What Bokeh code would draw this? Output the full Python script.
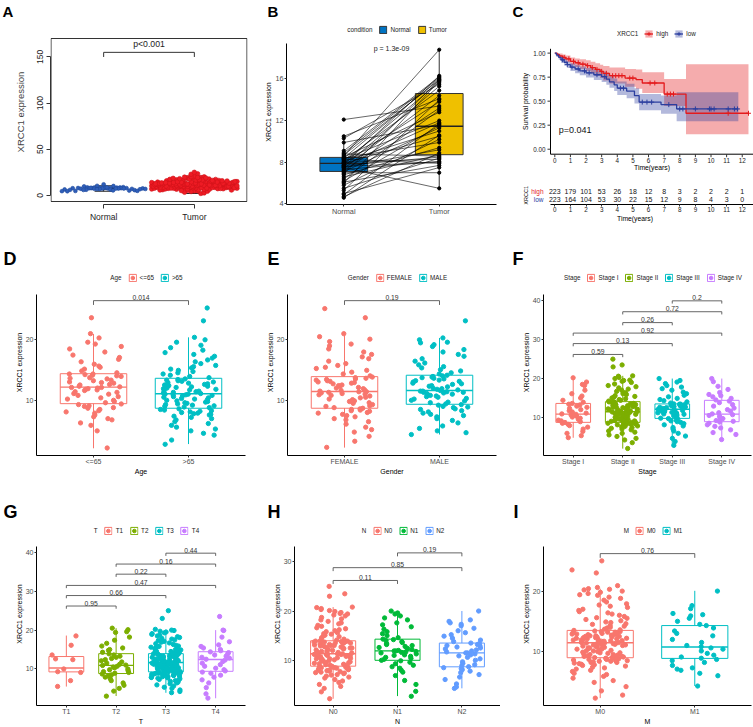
import numpy as np
from bokeh.plotting import figure
from bokeh.models import Range1d, FixedTicker, Legend, LegendItem, Title
from bokeh.layouts import row, column
from bokeh.embed import file_html
from bokeh.resources import INLINE
from bokeh.core.properties import value

FONT = "Liberation Sans"

# ---------------- DATA ----------------
B_normal = [12.1, 10.5, 10.3, 9.9, 9.1, 8.8, 8.7, 8.6, 8.5, 8.4, 8.4, 8.3, 8.2, 8.1, 8.0, 8.0, 7.9, 7.9,
            7.8, 7.7, 7.7, 7.6, 7.5, 7.5, 7.4, 7.3, 7.2, 7.1, 7.0, 6.9, 6.8, 6.6, 6.4, 6.2, 6.1, 6.0,
            5.8, 5.5, 5.3, 5.0, 4.9, 4.7, 4.6, 8.9, 8.3, 7.6]
B_tumor = [13.4, 14.1, 15.5, 11.6, 16.2, 8.6, 15.9, 18.8, 12.8, 9.9, 16.0, 7.9, 14.9, 11.0, 15.7, 8.3, 13.8, 10.5,
           16.3, 8.5, 11.8, 15.3, 5.5, 9.2, 14.4, 8.1, 13.2, 11.3, 7.0, 15.9, 9.4, 8.7, 13.0, 11.5, 7.7, 15.8,
           10.2, 8.4, 14.0, 7.5, 11.7, 8.9, 10.6, 16.1, 12.0, 8.0]
B_groups = ["Normal", "Tumor"]
B_q1 = [7.12, 8.73]
B_med = [7.9, 11.46]
B_q3 = [8.47, 14.6]
B_lo = [5.0, 5.5]
B_hi = [10.5, 18.8]
B_p = "p = 1.3e-09"

KM_high_t = [0, 0.15, 0.3, 0.5, 0.7, 1.0, 1.3, 1.6, 2.0, 2.3, 2.6, 2.9, 3.1, 3.5, 4.5, 5.2, 5.6, 7.0, 8.4]
KM_high_s = [1, 0.985, 0.97, 0.955, 0.94, 0.915, 0.9, 0.885, 0.87, 0.85, 0.83, 0.81, 0.79, 0.765, 0.74, 0.725, 0.689, 0.574, 0.374]
KM_high_lo = [1, 0.965, 0.945, 0.925, 0.905, 0.875, 0.855, 0.835, 0.815, 0.79, 0.765, 0.74, 0.715, 0.685, 0.65, 0.63, 0.585, 0.45, 0.155]
KM_high_up = [1, 1.0, 0.995, 0.985, 0.975, 0.955, 0.945, 0.935, 0.925, 0.91, 0.895, 0.88, 0.865, 0.85, 0.835, 0.83, 0.80, 0.73, 0.885]
KM_high_end = 12.4
KM_high_cens = [0.6, 0.9, 1.2, 1.5, 1.8, 2.1, 2.4, 2.7, 3.0, 3.3, 3.7, 3.9, 4.1, 4.3, 4.8, 5.0, 6.1, 6.4, 7.2, 7.4, 7.6, 11.1, 12.4]
KM_low_t = [0, 0.1, 0.25, 0.4, 0.6, 0.8, 1.0, 1.3, 1.6, 2.0, 2.5, 3.0, 3.3, 3.5, 3.8, 4.0, 4.6, 5.1, 5.4, 6.8, 7.8]
KM_low_s = [1, 0.98, 0.955, 0.93, 0.905, 0.88, 0.855, 0.835, 0.815, 0.795, 0.775, 0.755, 0.73, 0.70, 0.67, 0.635, 0.605, 0.557, 0.49, 0.464, 0.419]
KM_low_lo = [1, 0.96, 0.93, 0.9, 0.87, 0.845, 0.815, 0.79, 0.77, 0.745, 0.72, 0.7, 0.67, 0.64, 0.605, 0.565, 0.53, 0.475, 0.405, 0.37, 0.29]
KM_low_up = [1, 1.0, 0.98, 0.96, 0.94, 0.915, 0.895, 0.88, 0.86, 0.845, 0.83, 0.81, 0.79, 0.76, 0.735, 0.705, 0.68, 0.635, 0.575, 0.56, 0.592]
KM_low_end = 11.75
KM_low_cens = [0.5, 0.8, 1.1, 1.5, 1.9, 2.2, 2.7, 3.2, 4.2, 4.4, 5.6, 5.9, 6.2, 7.3, 8.0, 8.2, 9.0, 9.9, 10.0, 10.2, 11.1, 11.5, 11.7]
KM_yticks = [0, 0.25, 0.5, 0.75, 1.0]
KM_p = "p=0.041"
RISK_times = list(range(13))
RISK_high = [223, 179, 101, 53, 26, 18, 12, 8, 3, 2, 2, 2, 1]
RISK_low = [223, 164, 104, 53, 30, 22, 15, 12, 9, 8, 4, 3, 0]

D_groups = ["<=65", ">65"]
D_young = [2.2, 5.0, 5.9, 6.3, 6.8, 7.0, 7.3, 7.6, 7.9, 8.1, 8.3, 8.5, 8.7, 8.8, 9.0, 9.1, 9.3, 9.4,
           9.6, 9.8, 10.0, 10.2, 10.4, 10.6, 10.8, 11.0, 11.1, 11.3, 11.4, 11.6, 11.7, 11.8, 11.9, 12.0, 12.1, 12.1,
           12.2, 12.3, 12.5, 12.6, 12.8, 12.9, 13.0, 13.2, 13.3, 13.5, 13.6, 13.7, 13.9, 14.0, 14.1, 14.2, 14.3, 14.3,
           14.5, 14.8, 15.1, 15.4, 15.6, 15.9, 16.3, 16.7, 17.0, 17.4, 17.9, 18.4, 18.8, 19.2, 19.5, 20.2, 20.9, 23.5]
D_old = [2.8, 3.5, 4.3, 4.6, 5.0, 5.3, 5.6, 5.9, 6.2, 6.5, 6.8, 7.0, 7.2, 7.4, 7.6, 7.7, 7.8, 7.9, 8.0, 8.1, 8.2, 8.3, 8.4, 8.5, 8.6,
         8.8, 8.9, 9.0, 9.1, 9.2, 9.3, 9.4, 9.5, 9.6, 9.7, 9.8, 9.9, 10.0, 10.1, 10.2, 10.3, 10.4, 10.5, 10.6, 10.7, 10.8, 10.9, 10.9, 11.0, 11.0,
         11.1, 11.2, 11.3, 11.4, 11.5, 11.6, 11.7, 11.8, 11.9, 12.0, 12.1, 12.2, 12.3, 12.4, 12.5, 12.6, 12.7, 12.8, 12.9, 13.0, 13.1, 13.2, 13.3, 13.4, 13.5,
         13.7, 13.9, 14.1, 14.3, 14.5, 14.7, 14.9, 15.1, 15.3, 15.5, 15.7, 16.0, 16.3, 16.6, 16.9, 17.2, 17.5, 17.8, 18.2, 18.6, 19.0, 19.5, 19.9, 20.3,
         23.0, 25.1]
D_q1 = [9.45, 8.7]
D_med = [12.15, 11.07]
D_q3 = [14.35, 13.6]
D_lo = [2.15, 2.84]
D_hi = [20.85, 20.3]
D_brackets = [(1, 2, 26.3, "0.014")]

E_groups = ["FEMALE", "MALE"]
E_female = [2.3, 3.3, 4.1, 4.8, 5.2, 5.6, 6.1, 6.5, 6.8, 7.0, 7.3, 7.5, 7.7, 7.9, 8.0, 8.2, 8.3, 8.4, 8.5, 8.6, 8.7,
            8.8, 9.0, 9.1, 9.3, 9.5, 9.6, 9.8, 9.9, 10.1, 10.2, 10.4, 10.5, 10.7, 10.8, 10.9, 11.0, 11.1, 11.2, 11.3, 11.4, 11.4,
            11.5, 11.6, 11.7, 11.9, 12.0, 12.1, 12.3, 12.4, 12.5, 12.7, 12.8, 12.9, 13.0, 13.1, 13.2, 13.3, 13.4, 13.5, 13.6, 13.7, 13.8,
            14.0, 14.3, 14.6, 14.9, 15.2, 15.4, 15.7, 16.0, 16.4, 16.8, 17.1, 17.5, 17.9, 18.4, 18.9, 19.2, 19.6, 20.0, 20.4, 20.9,
            23.5, 25.0]
E_male = [4.4, 4.7, 5.0, 5.4, 5.8, 6.3, 6.7, 7.0, 7.3, 7.5, 7.7, 7.9, 8.1, 8.3, 8.5, 8.6, 8.8, 8.9, 9.0, 9.2, 9.3,
          9.4, 9.6, 9.7, 9.9, 10.0, 10.2, 10.3, 10.5, 10.6, 10.7, 10.8, 10.9, 11.0, 11.1, 11.2, 11.3, 11.3, 11.4, 11.5, 11.5, 11.6,
          11.7, 11.8, 11.9, 12.0, 12.2, 12.3, 12.4, 12.6, 12.7, 12.8, 13.0, 13.1, 13.2, 13.3, 13.5, 13.6, 13.7, 13.8, 13.9, 14.0, 14.1,
          14.3, 14.5, 14.8, 15.0, 15.3, 15.5, 15.8, 16.1, 16.4, 16.8, 17.2, 17.5, 17.9, 18.3, 18.8, 19.1, 19.4, 19.5, 19.9, 20.2,
          23.0]
E_q1 = [8.7, 9.35]
E_med = [11.45, 11.6]
E_q3 = [13.87, 14.1]
E_lo = [2.26, 4.4]
E_hi = [20.85, 20.2]
E_brackets = [(1, 2, 26.3, "0.19")]

F_groups = ["Stage I", "Stage II", "Stage III", "Stage IV"]
F_s1 = [4.8, 5.3, 5.9, 6.4, 7.0, 7.5, 7.9, 8.2, 8.5, 8.7, 8.9, 9.1, 9.3, 9.5, 9.8, 10.1, 10.3, 10.6, 10.8, 10.9,
        11.1, 11.4, 11.7, 12.0, 12.3, 12.6, 12.9, 13.2, 13.4, 13.6, 13.9, 14.4, 15.0, 15.5, 16.1, 17.0, 18.2, 18.5, 19.1, 20.2]
F_s2 = [2.0, 3.5, 4.2, 4.6, 5.1, 5.5, 5.9, 6.2, 6.5, 6.8, 7.0, 7.2, 7.4, 7.6, 7.7, 7.8, 7.9, 8.0, 8.1, 8.2, 8.3, 8.4, 8.5, 8.5, 8.6, 8.7, 8.7,
        8.8, 8.9, 9.0, 9.1, 9.2, 9.4, 9.5, 9.6, 9.7, 9.9, 10.0, 10.1, 10.2, 10.4, 10.5, 10.6, 10.7, 10.8, 10.9, 11.0, 11.0, 11.1, 11.2, 11.3, 11.3, 11.4, 11.4,
        11.5, 11.6, 11.7, 11.8, 11.9, 12.0, 12.1, 12.2, 12.3, 12.4, 12.5, 12.6, 12.7, 12.8, 12.9, 13.0, 13.1, 13.2, 13.3, 13.4, 13.5, 13.6, 13.7, 13.8, 13.9, 14.0, 14.0,
        14.2, 14.4, 14.6, 14.8, 15.0, 15.2, 15.4, 15.6, 15.9, 16.1, 16.4, 16.7, 17.0, 17.3, 17.6, 17.9, 18.2, 18.6, 19.0, 19.3, 19.5, 19.6, 20.0, 20.3, 20.6, 20.7,
        23.0, 23.5, 25.0]
F_s3 = [2.8, 3.8, 4.6, 5.2, 5.9, 6.5, 7.0, 7.4, 7.8, 8.1, 8.4, 8.7, 8.9, 9.1, 9.3, 9.5, 9.7,
        9.8, 10.0, 10.2, 10.4, 10.6, 10.8, 10.9, 11.1, 11.2, 11.3, 11.5, 11.6, 11.7, 11.8, 11.9, 12.0, 12.0, 12.1,
        12.2, 12.3, 12.3, 12.4, 12.5, 12.6, 12.7, 12.8, 12.8, 12.9, 13.0, 13.1, 13.1, 13.2, 13.3, 13.4, 13.4, 13.5,
        13.7, 14.0, 14.3, 14.6, 14.9, 15.3, 15.7, 16.1, 16.5, 17.0, 17.4, 17.8, 18.2, 18.7, 19.1, 19.5, 20.0]
F_s4 = [4.3, 5.6, 6.1, 6.8, 7.3, 7.7, 8.1, 8.5, 8.8, 9.0, 9.2, 9.5, 9.7, 10.0, 10.3, 10.5, 10.7, 10.9, 11.2, 11.6,
        12.0, 12.4, 12.9, 13.3, 13.8, 14.2, 14.5, 14.9, 15.3, 15.6, 15.9, 16.4, 17.2, 18.0, 19.2, 20.0]
F_q1 = [8.73, 8.73, 9.75, 8.9]
F_med = [10.85, 11.44, 12.1, 10.85]
F_q3 = [13.6, 14.06, 13.47, 14.4]
F_lo = [4.76, 1.97, 2.8, 4.25]
F_hi = [20.25, 20.7, 20.0, 20.0]
F_brackets = [(1, 2, 26.2, "0.59"), (1, 3, 29.0, "0.13"), (1, 4, 31.7, "0.92"),
              (2, 3, 34.4, "0.26"), (2, 4, 37.2, "0.72"), (3, 4, 40.0, "0.2")]

G_groups = ["T1", "T2", "T3", "T4"]
G_t1 = [5.5, 7.0, 9.1, 9.3, 10.0, 12.4, 12.6, 13.6, 16.1, 18.5]
G_t2 = [3.0, 4.3, 5.0, 5.8, 6.4, 7.0, 7.5, 7.9, 8.2, 8.5, 8.7, 8.9, 9.1, 9.3, 9.6, 9.8, 10.0, 10.3, 10.5, 10.7, 10.9, 11.0,
        11.2, 11.5, 11.8, 12.1, 12.4, 12.7, 13.0, 13.3, 13.6, 13.9, 14.3, 14.8, 15.0, 15.4, 15.9, 16.6, 17.4, 18.2, 19.4, 19.6, 20.1, 20.5]
G_t3 = [3.9, 4.2, 4.6, 5.0, 5.3, 5.6, 5.9, 6.2, 6.4, 6.6, 6.8, 7.0, 7.2, 7.3, 7.5, 7.6, 7.7, 7.8, 7.9, 8.0, 8.1, 8.2, 8.3, 8.4, 8.5, 8.6, 8.6, 8.7, 8.8, 8.8, 8.9, 9.0, 9.0, 9.1, 9.1, 9.2, 9.2,
        9.3, 9.4, 9.4, 9.5, 9.6, 9.7, 9.7, 9.8, 9.9, 10.0, 10.0, 10.1, 10.2, 10.3, 10.3, 10.4, 10.5, 10.6, 10.6, 10.7, 10.8, 10.8, 10.9, 11.0, 11.0, 11.1, 11.2, 11.2, 11.3, 11.3, 11.4, 11.4, 11.5, 11.5, 11.6, 11.6, 11.7,
        11.7, 11.8, 11.8, 11.9, 11.9, 12.0, 12.0, 12.1, 12.2, 12.2, 12.3, 12.3, 12.4, 12.5, 12.5, 12.6, 12.7, 12.7, 12.8, 12.9, 12.9, 13.0, 13.1, 13.1, 13.2, 13.3, 13.3, 13.4, 13.5, 13.5, 13.6, 13.7, 13.7, 13.8, 13.8, 13.9, 13.9,
        14.0, 14.1, 14.2, 14.4, 14.5, 14.6, 14.8, 14.9, 15.0, 15.2, 15.3, 15.5, 15.6, 15.8, 15.9, 16.1, 16.3, 16.5, 16.7, 16.9, 17.1, 17.3, 17.5, 17.7, 17.9, 18.1, 18.3, 18.5, 18.7, 18.9, 19.1, 19.3, 19.5, 19.7, 19.9, 20.0, 20.2,
        23.0, 25.0]
G_t4 = [2.5, 3.6, 5.2, 6.4, 7.2, 7.9, 8.4, 8.9, 9.2, 9.5, 9.8, 10.2, 10.7, 11.1, 11.5, 11.9, 12.3, 12.5, 12.8, 13.0,
        13.3, 13.6, 13.9, 14.2, 14.4, 14.7, 15.0, 15.4, 15.8, 16.2, 17.0, 18.2, 19.9, 20.0, 23.5]
G_q1 = [9.25, 8.83, 9.25, 9.4]
G_med = [10.25, 10.92, 11.68, 12.43]
G_q3 = [13.2, 13.94, 13.94, 14.44]
G_lo = [5.47, 3.04, 3.87, 2.46]
G_hi = [18.6, 20.5, 20.17, 20.0]
G_brackets = [(1, 2, 26.2, "0.95"), (1, 3, 28.9, "0.66"), (1, 4, 31.5, "0.47"),
              (2, 3, 34.4, "0.22"), (2, 4, 37.0, "0.16"), (3, 4, 39.8, "0.44")]

H_groups = ["N0", "N1", "N2"]
H_n0 = [2.2, 3.6, 4.3, 4.7, 5.1, 5.5, 5.8, 6.1, 6.4, 6.6, 6.8, 7.0, 7.1, 7.3, 7.4, 7.5, 7.6, 7.7, 7.8, 7.9, 8.0, 8.0, 8.1, 8.2, 8.3, 8.3, 8.4, 8.5, 8.5, 8.6, 8.6, 8.7, 8.7, 8.8,
        8.9, 9.0, 9.1, 9.2, 9.3, 9.4, 9.5, 9.6, 9.7, 9.8, 9.9, 10.0, 10.1, 10.2, 10.3, 10.3, 10.4, 10.5, 10.6, 10.7, 10.7, 10.8, 10.9, 10.9, 11.0, 11.0, 11.1, 11.1, 11.2, 11.2, 11.3, 11.3, 11.3, 11.3,
        11.4, 11.5, 11.6, 11.7, 11.8, 11.9, 12.0, 12.1, 12.2, 12.3, 12.4, 12.5, 12.5, 12.6, 12.7, 12.8, 12.9, 13.0, 13.0, 13.1, 13.2, 13.3, 13.3, 13.4, 13.5, 13.5, 13.6, 13.7, 13.7, 13.8, 13.8, 13.9, 13.9, 14.0,
        14.1, 14.3, 14.5, 14.6, 14.8, 15.0, 15.1, 15.3, 15.4, 15.6, 15.8, 16.0, 16.2, 16.4, 16.6, 16.9, 17.1, 17.4, 17.6, 17.9, 18.2, 18.4, 18.7, 19.0, 19.2, 19.4, 19.5, 19.7, 19.9, 20.1, 20.3, 20.5, 20.7, 20.8,
        23.0, 23.5, 25.0]
H_n1 = [2.7, 3.7, 5.1, 5.9, 6.9, 7.6, 8.0, 8.4, 8.7, 9.0, 9.3, 9.6, 9.9, 10.0, 10.2, 10.4, 10.6, 10.8, 11.0, 11.1, 11.3, 11.5, 11.6, 11.7, 11.8, 11.9, 11.9,
        12.0, 12.2, 12.4, 12.6, 12.8, 13.0, 13.2, 13.4, 13.6, 13.8, 14.0, 14.2, 14.3, 14.6, 15.0, 15.4, 15.8, 16.3, 16.8, 17.2, 17.6, 18.2, 18.6, 19.0, 19.4, 19.6, 20.0]
H_n2 = [4.3, 4.6, 5.2, 6.1, 6.6, 7.1, 7.5, 7.8, 8.1, 8.3, 8.5, 8.7, 8.9, 9.1, 9.4, 9.7, 10.0, 10.3, 10.6, 10.9, 11.1, 11.3, 11.5, 11.5,
        11.7, 11.9, 12.1, 12.3, 12.5, 12.7, 12.9, 13.0, 13.2, 13.4, 13.5, 13.8, 14.1, 14.5, 14.9, 15.2, 15.6, 16.0, 16.5, 17.0, 17.3, 17.6, 17.9, 18.2, 20.0]
H_q1 = [8.81, 10.0, 8.68]
H_med = [11.32, 11.91, 11.5]
H_q3 = [13.96, 14.29, 13.5]
H_lo = [2.2, 2.74, 4.32]
H_hi = [20.8, 20.0, 20.0]
H_brackets = [(1, 2, 26.2, "0.11"), (1, 3, 28.8, "0.85"), (2, 3, 31.8, "0.19")]

I_groups = ["M0", "M1"]
I_m0 = [2.3, 2.8, 3.5, 4.2, 4.9, 5.2, 5.6, 5.9, 6.2, 6.4, 6.7, 6.9, 7.1, 7.3, 7.4, 7.6, 7.7, 7.8, 7.9, 8.0, 8.1, 8.2, 8.2, 8.3, 8.4, 8.4, 8.5, 8.5, 8.6, 8.6, 8.7, 8.7, 8.8, 8.8, 8.9, 8.9, 8.9, 9.0, 9.0,
        9.1, 9.2, 9.2, 9.3, 9.4, 9.5, 9.5, 9.6, 9.7, 9.8, 9.8, 9.9, 10.0, 10.1, 10.1, 10.2, 10.3, 10.4, 10.4, 10.5, 10.6, 10.6, 10.7, 10.8, 10.8, 10.9, 10.9, 11.0, 11.0, 11.1, 11.1, 11.2, 11.2, 11.3, 11.3, 11.4, 11.4, 11.4, 11.5,
        11.5, 11.6, 11.6, 11.7, 11.7, 11.8, 11.8, 11.9, 11.9, 12.0, 12.0, 12.1, 12.1, 12.2, 12.2, 12.3, 12.3, 12.4, 12.4, 12.5, 12.5, 12.6, 12.6, 12.7, 12.7, 12.8, 12.8, 12.9, 12.9, 13.0, 13.0, 13.1, 13.1, 13.2, 13.2, 13.3, 13.3, 13.4, 13.5,
        13.6, 13.7, 13.9, 14.0, 14.2, 14.3, 14.5, 14.6, 14.8, 14.9, 15.1, 15.3, 15.5, 15.6, 15.8, 16.0, 16.2, 16.4, 16.6, 16.8, 17.0, 17.3, 17.5, 17.7, 17.9, 18.2, 18.5, 18.8, 19.0, 19.3, 19.4, 19.6, 19.8, 20.0, 20.2, 20.3, 20.4, 20.6, 20.9,
        23.0, 23.5, 25.0]
I_m1 = [4.3, 6.0, 6.4, 6.9, 7.1, 7.3, 7.7, 8.2, 8.5, 8.7, 8.9, 9.1, 9.4, 9.7, 10.1, 10.4, 10.6, 10.8, 11.0, 11.5,
        12.0, 12.6, 13.0, 13.4, 13.9, 14.3, 14.5, 15.0, 15.5, 15.9, 16.1, 16.3, 17.1, 17.6, 20.0]
I_q1 = [8.98, 8.87]
I_med = [11.45, 10.75]
I_q3 = [13.5, 14.3]
I_lo = [2.3, 4.3]
I_hi = [20.4, 20.05]
I_brackets = [(1, 2, 26.2, "0.76")]

A_groups = ["Normal", "Tumor"]
A_normal = B_normal
A_tumor = D_young + D_old
A_q1 = [7.1, 9.0]
A_med = [7.9, 11.6]
A_q3 = [8.5, 14.0]
A_lo = [4.6, 2.2]
A_hi = [10.5, 20.9]
A_p = "p<0.001"

GG2 = ["#F8766D", "#00BFC4"]
GG3 = ["#F8766D", "#00BA38", "#619CFF"]
GG4 = ["#F8766D", "#7CAE00", "#00BFC4", "#C77CFF"]


# ---------------- helpers ----------------
def hash_jitter(n, w, seed):
    k = np.arange(n, dtype=float) + seed
    h = np.sin(k * 12.9898 + seed * 78.233) * 43758.5453
    return (h - np.floor(h) - 0.5) * 2.0 * w


def new_fig(w, h, xr, yr, left, right, top, bottom):
    return figure(width=w, height=h, x_range=Range1d(*xr), y_range=Range1d(*yr), title=None,
                  output_backend="svg", toolbar_location=None,
                  width_policy="fixed", height_policy="fixed",
                  min_border_left=left, min_border_right=right, min_border_top=top, min_border_bottom=bottom)


def style_gg(p, tick_size="7px", title_size="7px", tick_color="#4D4D4D"):
    p.xgrid.visible = False
    p.ygrid.visible = False
    p.outline_line_color = None
    p.background_fill_color = "white"
    p.border_fill_color = "white"
    for ax in [p.xaxis[0], p.yaxis[0]]:
        ax.axis_line_color = "black"
        ax.axis_line_width = 1
        ax.major_tick_line_color = "#333333"
        ax.major_tick_in = 0
        ax.major_tick_out = 2
        ax.minor_tick_line_color = None
        ax.major_label_text_font = FONT
        ax.major_label_text_font_size = tick_size
        ax.major_label_text_color = tick_color
        ax.major_label_standoff = 1
        ax.axis_label_text_font = FONT
        ax.axis_label_text_font_size = title_size
        ax.axis_label_text_font_style = "normal"
        ax.axis_label_text_color = "black"
        ax.axis_label_standoff = 0
    p.xaxis.major_label_standoff = 0


def add_letter(p, text, offset, size, standoff):
    p.add_layout(Title(text=text, align="left", offset=offset, standoff=standoff, text_font=FONT,
                       text_font_size=size, text_font_style="bold", text_color="black"), "above")


def add_legend(p, items, title, margin, location="top_center"):
    head = LegendItem(label=title, renderers=[])
    leg = Legend(items=[head] + list(items), orientation="horizontal", location=location,
                 glyph_width=9, glyph_height=9, label_height=9, label_width=0,
                 label_standoff=3, spacing=6, padding=0, margin=margin,
                 label_text_font=FONT, label_text_font_size="6.3px", label_text_color="#222222",
                 background_fill_alpha=0, border_line_color=None)
    p.add_layout(leg, "center")


def ext_range(lo, hi, data_top, data_bot, t0, fb):
    ppu = (data_bot - data_top) / (hi - lo)
    return (lo - (fb - data_bot) / ppu, hi + (data_top - t0) / ppu)


def box_panel(letter, cats, cols, groups, q1, med, q3, lo, hi, brackets, yr, yticks,
              leg_title, xtitle, w, h, left, right, t0, data_top, bottom, margin, loff, lstand, seed):
    n = len(cats)
    fb = h - bottom
    p = new_fig(w, h, (0.4, n + 0.6), ext_range(yr[0], yr[1], data_top, fb, t0, fb), left, right, t0, bottom)
    style_gg(p)
    p.yaxis.bounds = (yr[0], yr[1])
    items = []
    for i in range(n):
        x = i + 1
        c = cols[i]
        p.segment(x0=[x, x], y0=[q3[i], q1[i]], x1=[x, x], y1=[hi[i], lo[i]], line_color=c, line_width=1)
        box = p.vbar(x=[x], width=0.7, bottom=[q1[i]], top=[q3[i]], fill_alpha=0, line_color=c, line_width=1)
        p.segment(x0=[x - 0.35], y0=[med[i]], x1=[x + 0.35], y1=[med[i]], line_color=c, line_width=1.4)
        vals = np.array(groups[i], dtype=float)
        xs = x + hash_jitter(len(vals), 0.3, seed + i * 17)
        pts = p.scatter(x=xs, y=vals, marker="circle", size=4.3, fill_color=c, line_color=c)
        items.append(LegendItem(label=cats[i], renderers=[box, pts]))
    tip = 0.7
    bx0, by0, bx1, by1, tx, ty, tt = [], [], [], [], [], [], []
    for (i, j, yb, lab) in brackets:
        bx0 += [i, i, j]; by0 += [yb, yb, yb]
        bx1 += [j, i, j]; by1 += [yb, yb - tip, yb - tip]
        tx.append((i + j) / 2.0); ty.append(yb); tt.append(lab)
    p.segment(x0=bx0, y0=by0, x1=bx1, y1=by1, line_color="#555555", line_width=0.9)
    p.text(x=tx, y=ty, text=tt, text_font=value(FONT), text_font_size="6.8px", text_align="center",
           text_baseline="bottom", text_color="#333333", y_offset=-0.5)
    p.xaxis.ticker = FixedTicker(ticks=list(range(1, n + 1)))
    p.xaxis.major_label_overrides = {k + 1: cats[k] for k in range(n)}
    p.yaxis.ticker = FixedTicker(ticks=yticks)
    p.xaxis.axis_label = xtitle
    p.yaxis.axis_label = "XRCC1 expression"
    add_legend(p, items, leg_title, margin)
    add_letter(p, letter, loff, "18px", lstand)
    return p


def swarm_offsets(vals, bin_units, step, maxw):
    vals = np.asarray(vals, dtype=float)
    off = np.zeros(len(vals))
    bins = np.floor((vals - vals.min()) / bin_units).astype(int)
    for b in np.unique(bins):
        idx = np.where(bins == b)[0]
        m = len(idx)
        if m == 1:
            continue
        sp = min(step, 2 * maxw / (m - 1))
        pos = (np.arange(m) - (m - 1) / 2.0) * sp
        order = np.argsort(hash_jitter(m, 1.0, b + 3))
        off[idx] = pos[order]
    return off


# Row 1 shares one top and one bottom border (Bokeh aligns frames inside a row)
R1_H, R1_TOP, R1_BOT = 245, 19, 41
R1_FB = R1_H - R1_BOT  # frame bottom (px from figure top)

# ---------------- Panel A ----------------
A_box = (0.42, 2.58, -6.5, 170.0)
pa = new_fig(250, R1_H, (0.414, 2.586), ext_range(A_box[2], A_box[3], 38, 201, R1_TOP, R1_FB), 50, 3, R1_TOP, R1_BOT)
pa.xgrid.visible = False
pa.ygrid.visible = False
pa.outline_line_color = None
for ax in [pa.xaxis[0], pa.yaxis[0]]:
    ax.axis_line_color = "#333333"
    ax.major_tick_line_color = "#333333"
    ax.major_tick_in = 0
    ax.major_tick_out = 4
    ax.minor_tick_line_color = None
    ax.major_label_text_font = FONT
    ax.major_label_text_font_size = "8.5px"
    ax.major_label_text_color = "#222222"
    ax.axis_label_text_font = FONT
    ax.axis_label_text_font_size = "9.5px"
    ax.axis_label_text_font_style = "normal"
pa.xaxis.ticker = FixedTicker(ticks=[1, 2])
pa.xaxis.major_label_overrides = {1: A_groups[0], 2: A_groups[1]}
pa.xaxis.major_label_standoff = 3
pa.xaxis.bounds = (1, 2)
pa.yaxis.ticker = FixedTicker(ticks=[0, 50, 100, 150])
pa.yaxis.bounds = (0, 150)
pa.yaxis.major_label_orientation = "vertical"
pa.yaxis.major_label_standoff = 3
pa.yaxis.axis_label = "XRCC1 expression"
pa.yaxis.axis_label_standoff = 9
pa.quad(left=[A_box[0]], right=[A_box[1]], bottom=[A_box[2]], top=[A_box[3]], fill_alpha=0,
        line_color="#333333", line_width=1)
for i in range(2):
    x = i + 1
    pa.segment(x0=[x, x, x - 0.1, x - 0.1], y0=[A_q3[i], A_q1[i], A_hi[i], A_lo[i]],
               x1=[x, x, x + 0.1, x + 0.1], y1=[A_hi[i], A_lo[i], A_hi[i], A_lo[i]],
               line_color="#222222", line_width=1)
    pa.vbar(x=[x], width=0.4, bottom=[A_q1[i]], top=[A_q3[i]], fill_color="white", line_color="#222222", line_width=1)
    pa.segment(x0=[x - 0.2], y0=[A_med[i]], x1=[x + 0.2], y1=[A_med[i]], line_color="#111111", line_width=2)
nx = 1 + swarm_offsets(A_normal, 3.6, 0.036, 0.46)
pa.scatter(x=nx, y=A_normal, marker="circle", size=3.8, fill_color="#2F5EB8", line_color="#1E4A9E", line_width=0.6)
tx_ = 2 + swarm_offsets(A_tumor, 3.4, 0.036, 0.47)
pa.scatter(x=tx_, y=A_tumor, marker="circle", size=4.6, fill_color="#EE1B24", line_color="#D0121A", line_width=0.6)
pa.segment(x0=[1, 1, 2], y0=[155, 155, 155], x1=[2, 1, 2], y1=[155, 150, 150], line_color="#333333", line_width=1)
pa.text(x=[1.5], y=[159], text=[A_p], text_font=value(FONT), text_font_size="8.7px", text_align="center",
        text_baseline="bottom", text_color="#222222")
add_letter(pa, "A", -48, "15px", 0)

# ---------------- Panel B ----------------
B_yr = (3.95, 19.4)
pb = new_fig(250, R1_H, (0.4, 2.6), ext_range(B_yr[0], B_yr[1], 43, R1_FB, R1_TOP, R1_FB), 36, 4, R1_TOP, R1_BOT)
style_gg(pb, tick_size="7.3px")
pb.yaxis.bounds = B_yr
B_fill = ["#0073C2", "#EFC000"]
b_items = []
for i in range(2):
    x = i + 1
    pb.segment(x0=[x, x], y0=[B_q3[i], B_q1[i]], x1=[x, x], y1=[B_hi[i], B_lo[i]], line_color="#333333", line_width=1)
    r = pb.vbar(x=[x], width=0.5, bottom=[B_q1[i]], top=[B_q3[i]], fill_color=B_fill[i], line_color="#333333", line_width=1)
    pb.segment(x0=[x - 0.25], y0=[B_med[i]], x1=[x + 0.25], y1=[B_med[i]], line_color="#222222", line_width=1.3)
    b_items.append(LegendItem(label=B_groups[i], renderers=[r]))
pb.segment(x0=[1] * len(B_normal), y0=B_normal, x1=[2] * len(B_tumor), y1=B_tumor, line_color="black", line_width=0.6)
pb.scatter(x=[1] * len(B_normal), y=B_normal, marker="circle", size=3.2, color="black")
pb.scatter(x=[2] * len(B_tumor), y=B_tumor, marker="circle", size=3.2, color="black")
pb.text(x=[1.5], y=[18.92], text=[B_p], text_font=value(FONT), text_font_size="7px", text_align="center",
        text_baseline="middle", text_color="#222222")
pb.xaxis.ticker = FixedTicker(ticks=[1, 2])
pb.xaxis.major_label_overrides = {1: B_groups[0], 2: B_groups[1]}
pb.yaxis.ticker = FixedTicker(ticks=[4, 8, 12, 16])
pb.yaxis.axis_label = "XRCC1 expression"
add_legend(pb, b_items, "condition", 6)
add_letter(pb, "B", -19, "15px", 0)

# ---------------- Panel C: curve and risk table share one frame ----------------
def step_arrays(t, s, t_end):
    xs, ys = [], []
    for k in range(len(t)):
        x1 = t[k + 1] if k + 1 < len(t) else t_end
        xs += [t[k], x1]
        ys += [s[k], s[k]]
    return xs, ys


C_W, C_left = 253, 16
C_ppx = 15.62
C_xr = (-(554.3 - (500 + C_left)) / C_ppx, 0.0)
C_xr = (C_xr[0], C_xr[0] + (C_W - C_left) / C_ppx)
C_km = (-0.052, 1.045)                        # survival axis limits
C_km_top, C_km_bot = 48.3, 153.7              # px from figure top
C_ppy = (C_km_bot - C_km_top) / (C_km[1] - C_km[0])


def c_y(px):
    return C_km[1] - (px - C_km_top) / C_ppy


pc = new_fig(C_W, R1_H, C_xr, (c_y(R1_FB), c_y(R1_TOP)), C_left, 0, R1_TOP, R1_BOT)
style_gg(pc, tick_size="6.3px", title_size="6.8px", tick_color="#222222")
pc.yaxis.visible = False
ax_x0 = -4.3 / C_ppx
pc.xaxis.major_tick_out = 2
pc.xaxis.bounds = (ax_x0, C_xr[1])
pc.xaxis.ticker = FixedTicker(ticks=RISK_times)
pc.xaxis.axis_label = "Time(years)"
C_red = "#E41A1C"
C_blue = "#2B3E9F"
km_parts = []
for (t, s, lo_, up_, tend, cens, col, lab) in [
        (KM_high_t, KM_high_s, KM_high_lo, KM_high_up, KM_high_end, KM_high_cens, C_red, "high"),
        (KM_low_t, KM_low_s, KM_low_lo, KM_low_up, KM_low_end, KM_low_cens, C_blue, "low")]:
    bx, blo = step_arrays(t, lo_, tend)
    _, bup = step_arrays(t, up_, tend)
    band = pc.varea(x=bx, y1=blo, y2=bup, fill_color=col, fill_alpha=0.36)
    km_parts.append((band, t, s, tend, cens, col, lab))
km_leg = []
for (band, t, s, tend, cens, col, lab) in km_parts:
    lx_, ly_ = step_arrays(t, s, tend)
    ln = pc.line(x=lx_, y=ly_, line_color=col, line_width=1.3)
    ta = np.array(t)
    sa = np.array(s)
    cy = [sa[np.searchsorted(ta, c, side="right") - 1] for c in cens]
    cr = pc.scatter(x=cens, y=cy, marker="cross", size=5, line_color=col, line_width=1)
    km_leg.append(LegendItem(label=lab, renderers=[band, ln, cr]))
pc.text(x=[0.25], y=[0.2], text=[KM_p], text_font=value(FONT), text_font_size="9px", text_align="left",
        text_baseline="middle", text_color="#111111")
# survival-curve axes (inside the shared frame)
pc.segment(x0=[ax_x0], y0=[C_km[0]], x1=[ax_x0], y1=[C_km[1]], line_color="black", line_width=1)
pc.segment(x0=[ax_x0] * len(KM_yticks), y0=KM_yticks, x1=[ax_x0 - 3 / C_ppx] * len(KM_yticks), y1=KM_yticks,
           line_color="#333333", line_width=1)
pc.text(x=[ax_x0 - 5 / C_ppx] * len(KM_yticks), y=KM_yticks, text=["%.2f" % v for v in KM_yticks],
        text_font=value(FONT), text_font_size="6.3px", text_align="right", text_baseline="middle", text_color="#222222")
pc.text(x=[ax_x0 - 25 / C_ppx], y=[(C_km[0] + C_km[1]) / 2], text=["Survival probability"], angle=np.pi / 2,
        text_font=value(FONT), text_font_size="6.8px", text_align="center", text_baseline="middle", text_color="black")
pc.segment(x0=[ax_x0], y0=[C_km[0]], x1=[C_xr[1]], y1=[C_km[0]], line_color="black", line_width=1)
pc.segment(x0=RISK_times, y0=[C_km[0]] * len(RISK_times), x1=RISK_times, y1=[C_km[0] - 3 / C_ppy] * len(RISK_times),
           line_color="#333333", line_width=1)
pc.text(x=RISK_times, y=[c_y(C_km_bot + 6.5)] * len(RISK_times), text=[str(t) for t in RISK_times],
        text_font=value(FONT), text_font_size="6.3px", text_align="center", text_baseline="middle", text_color="#222222")
pc.text(x=[(ax_x0 + C_xr[1]) / 2], y=[c_y(C_km_bot + 13)], text=["Time(years)"],
        text_font=value(FONT), text_font_size="6.8px", text_align="center", text_baseline="middle", text_color="black")
# risk table
y_high, y_low = c_y(191.0), c_y(198.7)
pc.text(x=RISK_times, y=[y_high] * len(RISK_times), text=[str(v) for v in RISK_high], text_font=value(FONT),
        text_font_size="7px", text_align="center", text_baseline="middle", text_color="#111111")
pc.text(x=RISK_times, y=[y_low] * len(RISK_times), text=[str(v) for v in RISK_low], text_font=value(FONT),
        text_font_size="7px", text_align="center", text_baseline="middle", text_color="#111111")
pc.text(x=[ax_x0 - 7 / C_ppx] * 2, y=[y_high, y_low], text=["high", "low"], text_font=value(FONT),
        text_font_size="6.5px", text_color=[C_red, C_blue], text_align="right", text_baseline="middle")
pc.text(x=[ax_x0 - 25 / C_ppx], y=[(y_high + y_low) / 2], text=["XRCC1"], angle=np.pi / 2, text_font=value(FONT),
        text_font_size="5.5px", text_color="black", text_align="center", text_baseline="middle")
C_frame_h = R1_FB - R1_TOP
add_legend(pc, km_leg, "XRCC1", 0, location=(605 - (500 + C_left), int(C_frame_h - (37.5 - R1_TOP))))
add_letter(pc, "C", 512 - (500 + C_left), "15px", 0)

# ---------------- Panels D - I ----------------
R2 = dict(h=253, t0=22, data_top=47, bottom=43, margin=4, lstand=2)
R3 = dict(h=229, t0=23, data_top=48, bottom=19, margin=4, lstand=2)
pd_ = box_panel("D", D_groups, GG2, [D_young, D_old], D_q1, D_med, D_q3, D_lo, D_hi, D_brackets,
                (0.97, 27.35), [10, 20], "Age", "Age", 250, R2["h"], 36, 5, R2["t0"], R2["data_top"], R2["bottom"],
                R2["margin"], 3 - 36, R2["lstand"], 1)
pe = box_panel("E", E_groups, GG2, [E_female, E_male], E_q1, E_med, E_q3, E_lo, E_hi, E_brackets,
               (0.97, 27.35), [10, 20], "Gender", "Gender", 250, R2["h"], 37, 4, R2["t0"], R2["data_top"], R2["bottom"],
               R2["margin"], 17 - 37, R2["lstand"], 5)
pf = box_panel("F", F_groups, GG4, [F_s1, F_s2, F_s3, F_s4], F_q1, F_med, F_q3, F_lo, F_hi, F_brackets,
               (0.2, 41.7), [10, 20, 30, 40], "Stage", "Stage", 253, R2["h"], 43, 2, R2["t0"], R2["data_top"], R2["bottom"],
               R2["margin"], 12 - 43, R2["lstand"], 9)
pg = box_panel("G", G_groups, GG4, [G_t1, G_t2, G_t3, G_t4], G_q1, G_med, G_q3, G_lo, G_hi, G_brackets,
               (0.6, 41.4), [10, 20, 30, 40], "T", "T", 250, R3["h"], 36, 5, R3["t0"], R3["data_top"], R3["bottom"],
               R3["margin"], 3 - 36, R3["lstand"], 13)
ph = box_panel("H", H_groups, GG3, [H_n0, H_n1, H_n2], H_q1, H_med, H_q3, H_lo, H_hi, H_brackets,
               (0.83, 33.0), [10, 20, 30], "N", "N", 250, R3["h"], 44, 0, R3["t0"], R3["data_top"], R3["bottom"],
               R3["margin"], 17 - 44, R3["lstand"], 21)
pi_ = box_panel("I", I_groups, GG2, [I_m0, I_m1], I_q1, I_med, I_q3, I_lo, I_hi, I_brackets,
                (1.08, 27.3), [10, 20], "M", "M", 253, R3["h"], 43, 2, R3["t0"], R3["data_top"], R3["bottom"],
                R3["margin"], 13 - 43, R3["lstand"], 29)

layout = column(row(pa, pb, pc), row(pd_, pe, pf), row(pg, ph, pi_))

open("out.html", "w").write(file_html(layout, INLINE))
